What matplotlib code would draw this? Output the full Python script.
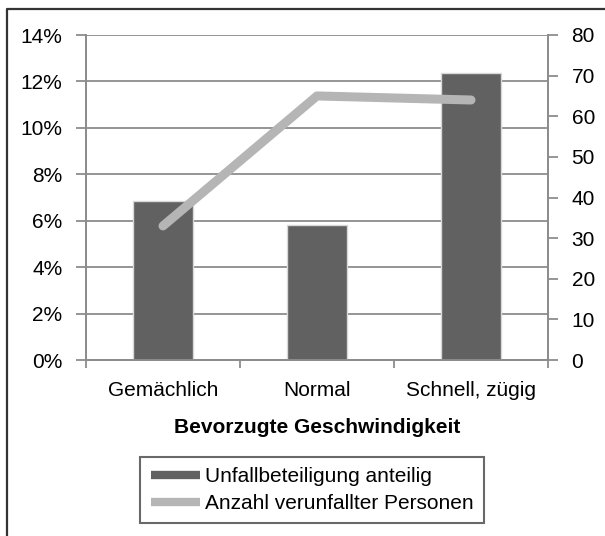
import numpy as np
import matplotlib
matplotlib.use('Agg')
import matplotlib.pyplot as plt
from matplotlib.lines import Line2D
from matplotlib.ticker import FuncFormatter

plt.rcParams['font.family'] = ['Liberation Sans', 'DejaVu Sans']

categories = ['Gemächlich', 'Normal', 'Schnell, zügig']
anteil = [6.85, 5.8, 12.35]          # Unfallbeteiligung anteilig (%)
personen = [33, 65, 64]               # Anzahl verunfallter Personen
pct_ticks = [0, 2, 4, 6, 8, 10, 12, 14]
cnt_ticks = [0, 10, 20, 30, 40, 50, 60, 70, 80]

bar_col = '#616161'
line_col = '#b5b5b5'
grid_col = '#8c8c8c'

fig = plt.figure(figsize=(6.05, 5.36), dpi=100)
ax = fig.add_axes([86/605, 1-360/536, 462/605, 325/536])
ax2 = ax.twinx()

x = np.arange(len(categories))
bars = ax.bar(x, anteil, width=0.39, color=bar_col, edgecolor='#d8d8d8',
              linewidth=1.0, zorder=3)
ax.set_ylim(0, 14)
ax.set_yticks(pct_ticks)
ax.yaxis.set_major_formatter(FuncFormatter(lambda v, p: '%d%%' % v))
ax.set_xlim(-0.5, 2.5)
ax.set_xticks([-0.5, 0.5, 1.5, 2.5])
ax.set_xticklabels([])
ax.set_xticks(x, minor=True)
ax.set_xticklabels(categories, minor=True, fontsize=15)
ax.tick_params(axis='x', which='minor', length=0, pad=15)
ax.tick_params(axis='x', which='major', length=6, width=1.3, color=grid_col)
ax.tick_params(axis='y', length=7, width=1.3, color=grid_col, labelsize=15, pad=10)
ax.grid(axis='y', color=grid_col, linewidth=1.3, zorder=0)
ax.set_axisbelow(True)
ax.set_xlabel('Bevorzugte Geschwindigkeit', fontsize=15, fontweight='bold', labelpad=13)

ln, = ax2.plot(x, personen, color=line_col, linewidth=6.5, solid_capstyle='round',
               zorder=4)
ax2.set_ylim(0, 80)
ax2.set_yticks(cnt_ticks)
ax2.tick_params(axis='y', length=7, width=1.3, color=grid_col, labelsize=15, pad=10)

for a in (ax, ax2):
    a.spines['top'].set_visible(False)
    for s in ('left', 'right', 'bottom'):
        a.spines[s].set_color(grid_col)
        a.spines[s].set_linewidth(1.3)

h_bar = Line2D([], [], color=bar_col, linewidth=6, solid_capstyle='butt')
h_line = Line2D([], [], color=line_col, linewidth=6, solid_capstyle='butt')
leg = fig.legend([h_bar, h_line], ['Unfallbeteiligung anteilig', 'Anzahl verunfallter Personen'],
                 loc='center', bbox_to_anchor=(312/605, 1-490/536), fontsize=15,
                 frameon=True, fancybox=False, handlelength=2.35, handletextpad=0.25,
                 labelspacing=0.38, borderpad=0.5, borderaxespad=0)
leg.get_frame().set_edgecolor('#444444')
leg.get_frame().set_linewidth(1.5)

# outer frame (only top and left visible)
fig.add_artist(Line2D([7/605, 7/605, 1.0], [0.0, 1-9/536, 1-9/536],
                      transform=fig.transFigure, color='#333333', linewidth=1.6))

fig.savefig('out.png', dpi=100, facecolor='white')
